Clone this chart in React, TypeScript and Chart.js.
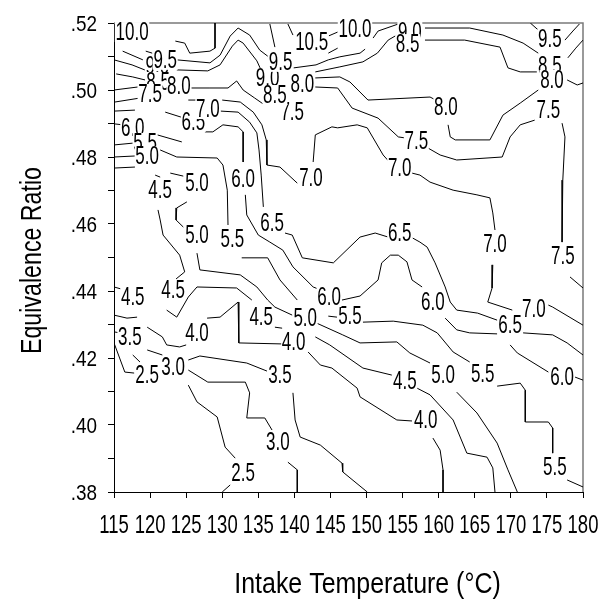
import React, { useEffect, useRef } from 'react';
import { Chart, registerables } from 'chart.js';

Chart.register(...registerables);

type Pt = [number, number];

const FONT = "'Liberation Sans', Arial, sans-serif";

const xTickValues = [115, 120, 125, 130, 135, 140, 145, 150, 155, 160, 165, 170, 175, 180];
const yTickValues = [0.38, 0.39, 0.4, 0.41, 0.42, 0.43, 0.44, 0.45, 0.46, 0.47, 0.48, 0.49, 0.5, 0.51, 0.52];
const yTickLabels = ['.38', '', '.40', '', '.42', '', '.44', '', '.46', '', '.48', '', '.50', '', '.52'];

const xTitle = 'Intake Temperature (°C)';
const yTitle = 'Equivalence Ratio';

const upperLeftStrokes: Pt[][] = [
  [[129.0, .5200], [129.0, .5125], [128.3, .5116], [125.5, .5110], [124.8, .5140], [123.5, .5146]],
  [[116.2, .5116], [119.0, .5090]],
  [[119.4, .5116], [120.3, .5110]],
  [[115.0, .5090], [117.5, .5075], [119.6, .5057]],
  [[115.3, .5048], [117.6, .5039], [119.3, .5030]],
  [[115.0, .5000], [118.3, .5009]],
  [[115.1, .4964], [118.6, .4976]],
  [[115.0, .4937], [117.9, .4940]],
  [[115.0, .4899], [116.2, .4896]],
  [[115.0, .4836], [117.9, .4842]],
  [[115.0, .4800], [117.9, .4803]],
  [[115.0, .4767], [117.9, .4770]],
  [[123.7, .5090], [128.3, .5081], [129.7, .5104], [131.1, .5161], [132.2, .5185], [133.8, .5164], [135.2, .5119], [136.3, .5101]],
  [[123.7, .5060], [128.0, .5057], [129.7, .5075], [131.4, .5131], [132.2, .5149], [132.9, .5140], [134.8, .5087], [135.5, .5054]],
  [[125.7, .5006], [128.3, .5006], [130.8, .5006], [132.0, .5027], [132.9, .5000], [134.5, .4976], [135.7, .4958]],
  [[122.1, .4934], [124.3, .4919]],
  [[125.3, .4970], [126.4, .4970]],
  [[130.0, .4970], [132.5, .4964], [134.3, .4934], [135.5, .4896], [136.1, .4851], [136.2, .4776], [138.0, .4770], [140.4, .4722]],
  [[129.8, .4937], [132.2, .4934], [133.8, .4904], [134.8, .4872], [135.1, .4821], [135.4, .4746], [135.7, .4651]],
  [[127.6, .4875], [128.7, .4875], [130.1, .4896], [132.2, .4890], [132.9, .4875], [132.9, .4785]],
  [[121.0, .4866], [124.4, .4845]],
  [[121.4, .4821], [123.7, .4800], [129.3, .4797], [130.1, .4776], [130.7, .4701], [130.8, .4597]],
  [[122.8, .4752], [124.6, .4743]],
  [[120.7, .4746], [121.4, .4740]],
];

const lowerLeftStrokes: Pt[][] = [
  [[133.2, .4687], [133.4, .4627], [135.0, .4567], [136.6, .4546], [138.4, .4522], [139.8, .4472], [142.6, .4412], [143.3, .4406]],
  [[125.1, .4666], [123.7, .4648], [123.6, .4612], [124.6, .4591]],
  [[121.1, .4642], [121.4, .4612], [121.8, .4567], [124.1, .4507], [124.8, .4457], [123.6, .4436]],
  [[126.5, .4513], [126.9, .4463], [132.5, .4448], [134.8, .4412], [136.3, .4373], [137.3, .4352], [139.7, .4328]],
  [[132.7, .4499], [136.3, .4499], [138.0, .4433], [140.4, .4373]],
  [[122.3, .4343], [123.7, .4322], [125.3, .4382], [126.5, .4412], [132.0, .4409], [134.1, .4373]],
  [[127.9, .4319], [129.7, .4322], [132.2, .4367], [132.3, .4245], [138.3, .4242]],
  [[115.0, .4412], [116.0, .4406]],
  [[115.0, .4328], [116.8, .4319], [118.2, .4322]],
  [[115.0, .4278], [115.8, .4275]],
  [[119.6, .4292], [121.7, .4263], [122.3, .4239], [124.1, .4233], [125.0, .4239]],
  [[115.0, .4245], [116.5, .4158], [117.8, .4155]],
  [[117.6, .4209], [118.6, .4188]],
  [[119.6, .4224], [121.7, .4209]],
  [[125.3, .4194], [126.9, .4206], [133.4, .4185], [136.2, .4161]],
  [[125.3, .4164], [128.0, .4128], [133.2, .4128], [133.8, .4096], [133.4, .4021], [135.9, .4021], [136.9, .3985]],
  [[125.3, .4119], [126.5, .4069], [129.3, .4024], [130.4, .3934], [131.8, .3901]],
  [[130.0, .3800], [131.1, .3821]],
];

const lowerMiddleStrokes: Pt[][] = [
  [[139.1, .3889], [140.4, .3866], [140.4, .3800]],
  [[139.8, .4096], [140.1, .4015], [140.8, .3964], [143.6, .3940], [146.6, .3886], [146.7, .3860], [150.1, .3800]],
  [[141.9, .4218], [143.6, .4179], [145.2, .4170], [148.7, .4110], [149.1, .4084], [154.2, .4015], [156.3, .4012]],
  [[142.9, .4263], [144.9, .4239], [149.5, .4170], [153.5, .4149]],
  [[143.1, .4304], [146.7, .4269], [149.1, .4245], [154.2, .4248], [156.0, .4215], [158.8, .4185]],
  [[144.7, .4325], [145.9, .4322]],
  [[137.3, .4292], [138.3, .4289]],
  [[149.5, .4307], [153.7, .4310], [157.8, .4298], [159.8, .4275], [162.0, .4218], [164.3, .4188]],
  [[157.0, .4110], [158.8, .4090], [162.0, .4015], [163.9, .3916], [166.7, .3904], [167.5, .3872], [167.8, .3800]],
  [[159.2, .3961], [160.2, .3925], [160.6, .3866], [160.6, .3800]],
  [[162.5, .4098], [165.3, .4036], [168.1, .3946], [169.6, .3866], [170.9, .3800]],
];

const rightStrokes: Pt[][] = [
  [[168.1, .4116], [171.3, .4125], [172.0, .4104], [172.0, .4009], [175.2, .4009], [175.8, .3991], [175.8, .3916]],
  [[177.8, .3836], [180.0, .3815]],
  [[169.9, .4239], [170.9, .4215], [175.2, .4158]],
  [[178.9, .4143], [180.0, .4134]],
  [[160.9, .4319], [162.5, .4284], [164.3, .4275], [168.1, .4272]],
  [[171.7, .4275], [175.8, .4269], [177.8, .4245], [180.0, .4209]],
  [[175.2, .4358], [175.8, .4352], [180.0, .4298]],
  [[178.2, .4442], [180.0, .4409]],
  [[167.5, .4478], [167.4, .4409], [166.8, .4367], [170.2, .4343]],
  [[156.4, .4558], [157.4, .4546], [158.4, .4531], [159.5, .4484], [160.9, .4412], [161.6, .4367], [162.5, .4343], [165.4, .4334], [168.1, .4313]],
  [[156.3, .4752], [157.4, .4746], [158.8, .4725], [162.0, .4701], [165.3, .4687], [167.1, .4678], [167.5, .4633], [167.8, .4582]],
  [[158.5, .4827], [160.2, .4806], [162.5, .4791], [168.8, .4800], [169.9, .4860], [171.3, .4896], [173.3, .4910]],
  [[177.1, .4901], [177.5, .4860], [177.2, .4731], [177.1, .4546]],
  [[161.3, .4896], [161.6, .4860], [162.3, .4851], [167.1, .4851], [168.9, .4925], [171.3, .4961], [173.8, .5000]],
  [[177.8, .5030], [179.2, .5015], [180.0, .5021]],
  [[158.1, .5149], [163.6, .5149], [168.5, .5128], [169.6, .5066], [171.3, .5054], [173.6, .5054]],
  [[158.1, .5185], [164.3, .5185], [168.9, .5164], [171.7, .5140], [173.8, .5110]],
  [[172.7, .5200], [173.8, .5179]],
  [[177.5, .5149], [178.6, .5176], [179.5, .5197]],
  [[177.9, .5096], [179.0, .5125], [180.0, .5149]],
];

const upperMiddleStrokes: Pt[][] = [
  [[142.6, .4785], [142.9, .4866], [145.2, .4890], [146.0, .4887], [148.7, .4896], [150.1, .4887], [152.3, .4806], [153.3, .4782]],
  [[142.9, .5009], [146.0, .5006], [148.0, .4946], [151.6, .4916], [154.4, .4860], [155.3, .4857]],
  [[142.9, .5036], [146.3, .5039], [147.7, .5024], [150.2, .4970], [158.8, .4979], [159.6, .4970]],
  [[139.9, .5066], [143.0, .5075], [144.7, .5090], [146.3, .5099], [149.1, .5110], [149.8, .5122]],
  [[142.9, .5054], [146.3, .5069], [149.5, .5084], [151.5, .5110], [153.0, .5149], [154.2, .5164]],
  [[136.6, .5197], [137.3, .5128]],
  [[139.1, .5197], [139.8, .5164]],
  [[144.7, .5161], [146.0, .5173]],
  [[144.7, .5110], [146.0, .5125]],
  [[150.9, .5155], [151.6, .5176], [154.4, .5197]],
  [[138.7, .4573], [139.7, .4567], [141.1, .4499], [145.4, .4484], [149.1, .4561], [151.2, .4573], [153.0, .4561]],
  [[146.6, .4373], [149.1, .4385], [151.6, .4433], [152.1, .4484], [153.3, .4507], [154.4, .4507], [155.6, .4487], [156.3, .4433], [157.7, .4412]],
];

// [text, temperature, ratio]; drawn in order, later labels mask earlier ones
const contourLabels: [string, number, number][] = [
  ['9.0', 121.0, .5072], ['8.5', 121.1, .5024], ['6.0', 117.6, .4887], ['5.5', 119.3, .4842],
  ['6.5', 126.0, .4905], ['9.0', 136.3, .5036], ['9.0', 156.0, .5173], ['8.5', 175.4, .5072],
  ['10.0', 117.5, .5173], ['9.5', 122.1, .5090], ['8.0', 124.0, .5012], ['7.5', 120.0, .4988],
  ['7.0', 128.0, .4943], ['5.0', 119.6, .4803], ['4.5', 121.4, .4701], ['5.0', 126.5, .4722],
  ['6.0', 132.9, .4734], ['5.0', 126.5, .4567], ['5.5', 131.4, .4555], ['6.5', 136.9, .4603],
  ['7.0', 142.3, .4737], ['4.5', 123.2, .4403], ['4.5', 117.6, .4382], ['3.5', 117.2, .4263],
  ['4.0', 126.5, .4275], ['2.5', 119.6, .4149], ['3.0', 123.2, .4173], ['2.5', 132.9, .3857],
  ['3.0', 137.7, .3949], ['3.5', 138.0, .4149], ['4.0', 139.9, .4248], ['4.5', 135.4, .4322],
  ['5.0', 141.5, .4319], ['5.5', 147.7, .4325], ['6.0', 144.8, .4382], ['6.5', 154.6, .4573],
  ['7.0', 154.6, .4767], ['7.5', 156.9, .4848], ['8.0', 161.0, .4949], ['7.5', 139.7, .4934],
  ['8.5', 137.3, .4985], ['8.0', 141.1, .5018], ['9.5', 138.1, .5084], ['10.5', 142.4, .5143],
  ['10.0', 148.4, .5182], ['8.5', 155.7, .5137], ['9.5', 175.4, .5152], ['8.0', 175.7, .5030],
  ['7.5', 175.2, .4940], ['7.0', 167.8, .4540], ['7.5', 177.2, .4504], ['6.0', 159.2, .4367],
  ['6.5', 169.9, .4298], ['7.0', 173.2, .4346], ['6.0', 177.1, .4143], ['5.5', 166.1, .4152],
  ['5.0', 160.6, .4149], ['4.5', 155.3, .4131], ['4.0', 158.2, .4015], ['5.5', 176.1, .3875],
];

const allStrokes: Pt[][] = [
  ...upperLeftStrokes,
  ...lowerLeftStrokes,
  ...lowerMiddleStrokes,
  ...rightStrokes,
  ...upperMiddleStrokes,
];

// draws text horizontally condensed, as in the narrow typeface of the original
function narrowText(ctx: any, text: string, x: number, y: number, sx: number, rot = 0) {
  ctx.save();
  ctx.translate(x, y);
  if (rot) ctx.rotate(rot);
  ctx.scale(sx, 1);
  ctx.fillText(text, 0, 0);
  ctx.restore();
}

const framePlugin = {
  id: 'frame',
  beforeDatasetsDraw(chart: any) {
    const { ctx, chartArea } = chart;
    ctx.save();
    ctx.strokeStyle = '#7a7a7a';
    ctx.lineWidth = 1.5;
    ctx.beginPath();
    ctx.moveTo(chartArea.left, chartArea.top);
    ctx.lineTo(chartArea.right, chartArea.top);
    ctx.lineTo(chartArea.right, chartArea.bottom);
    ctx.stroke();
    ctx.restore();
  },
};

const labelPlugin = {
  id: 'contourLabels',
  afterDatasetsDraw(chart: any) {
    const { ctx, scales } = chart;
    ctx.save();
    ctx.font = `25px ${FONT}`;
    ctx.textAlign = 'center';
    ctx.textBaseline = 'middle';
    for (const [t, xv, yv] of contourLabels) {
      const px = scales.x.getPixelForValue(xv);
      const py = scales.y.getPixelForValue(yv);
      ctx.save();
      ctx.translate(px, py);
      ctx.scale(0.68, 1);
      const w = ctx.measureText(t).width;
      ctx.fillStyle = '#ffffff';
      ctx.fillRect(-w / 2 - 1, -10, w + 2, 20);
      ctx.fillStyle = '#000000';
      ctx.fillText(t, 0, 1);
      ctx.restore();
    }
    ctx.restore();
  },
};

const axisTextPlugin = {
  id: 'axisText',
  afterDraw(chart: any) {
    const { ctx, scales, chartArea } = chart;
    ctx.save();
    ctx.fillStyle = '#000';
    ctx.textBaseline = 'alphabetic';
    ctx.font = `25px ${FONT}`;
    ctx.textAlign = 'center';
    xTickValues.forEach((v) => {
      narrowText(ctx, String(v), scales.x.getPixelForValue(v), chartArea.bottom + 41, 0.74);
    });
    ctx.font = `22px ${FONT}`;
    ctx.textAlign = 'right';
    yTickValues.forEach((v, i) => {
      if (!yTickLabels[i]) return;
      narrowText(ctx, yTickLabels[i], chartArea.left - 17, scales.y.getPixelForValue(v) + 8, 0.86);
    });
    ctx.font = `29px ${FONT}`;
    ctx.textAlign = 'center';
    narrowText(ctx, xTitle, (chartArea.left + chartArea.right) / 2 + 19, chartArea.bottom + 101, 0.86);
    narrowText(ctx, yTitle, 41, (chartArea.top + chartArea.bottom) / 2 + 3, 0.8, -Math.PI / 2);
    ctx.restore();
  },
};

export default function App() {
  const ref = useRef<HTMLCanvasElement | null>(null);

  useEffect(() => {
    if (!ref.current) return;
    const datasets = allStrokes.map((s) => ({
      data: s.map(([x, y]) => ({ x, y })),
      showLine: true,
      borderColor: '#000000',
      borderWidth: 1,
      pointRadius: 0,
      tension: 0,
      fill: false,
    }));
    const chart = new Chart(ref.current, {
      type: 'scatter',
      data: { datasets },
      options: {
        animation: false,
        responsive: false,
        events: [],
        layout: { padding: { top: 23, right: 23, left: 0, bottom: 0 } },
        plugins: { legend: { display: false }, tooltip: { enabled: false } },
        scales: {
          x: {
            type: 'linear',
            min: 115,
            max: 180,
            afterFit: (s: any) => { s.height = 110; },
            afterBuildTicks: (s: any) => { s.ticks = xTickValues.map((v) => ({ value: v })); },
            ticks: { display: false, autoSkip: false },
            grid: { drawOnChartArea: false, drawTicks: true, tickLength: 6, tickColor: '#000', tickWidth: 1 },
            border: { color: '#000', width: 1 },
          },
          y: {
            type: 'linear',
            min: 0.38,
            max: 0.52,
            afterFit: (s: any) => { s.width = 114; },
            afterBuildTicks: (s: any) => { s.ticks = yTickValues.map((v) => ({ value: v })); },
            ticks: { display: false, autoSkip: false },
            grid: { drawOnChartArea: false, drawTicks: true, tickLength: 6, tickColor: '#000', tickWidth: 1 },
            border: { color: '#000', width: 1 },
          },
        },
      },
      plugins: [framePlugin, labelPlugin, axisTextPlugin],
    } as any);
    return () => chart.destroy();
  }, []);

  return (
    <div style={{ position: 'absolute', left: 0, top: 0, width: 606, height: 602, background: '#fff' }}>
      <canvas ref={ref} width={606} height={602} style={{ width: 606, height: 602 }} />
    </div>
  );
}
